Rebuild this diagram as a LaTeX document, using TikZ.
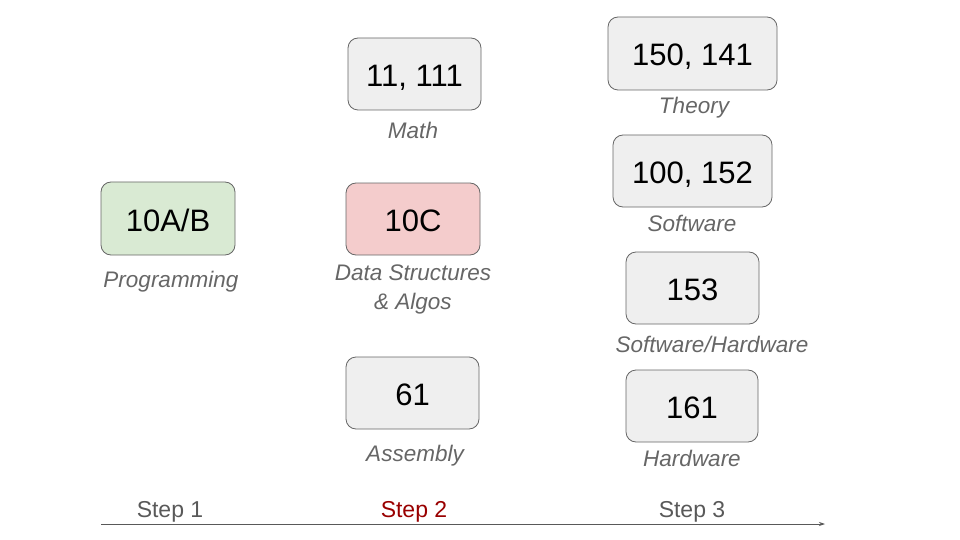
\documentclass[tikz,border=0pt]{standalone}
\usepackage{fontspec}
\setmainfont{Liberation Sans}
\usetikzlibrary{arrows.meta}
\definecolor{greenfill}{HTML}{D9EAD3}
\definecolor{redfill}{HTML}{F4CCCC}
\definecolor{grayfill}{HTML}{EFEFEF}
\definecolor{boxline}{HTML}{666666}
\definecolor{labgray}{HTML}{666666}
\definecolor{stepgray}{HTML}{595959}
\definecolor{stepred}{HTML}{990000}
\tikzset{
  course/.style={draw=boxline, line width=0.8pt, rounded corners=10pt, inner sep=0pt,
    font=\fontsize{31}{36}\selectfont, text=black, text height=25pt, text depth=0pt},
  area/.style={font=\itshape\fontsize{22.5}{29}\selectfont, text=labgray, align=center, inner sep=0pt},
  steplab/.style={font=\fontsize{23}{26}\selectfont, text=stepgray, inner sep=0pt},
}
\newcommand{\cbox}[7]{% name, x1, y1, x2, y2, fill, text
  \node[course, fill=#6, minimum width={#4pt-#2pt}, minimum height={#5pt-#3pt}]
    (#1) at ({(#2+#4)/2*1pt}, {-(#3+#5)/2*1pt}) {#7};}
\begin{document}
\begin{tikzpicture}[x=1pt,y=1pt]
\useasboundingbox (0,0) rectangle (960,-540);
% boxes
\cbox{prog}{101}{182}{235}{255}{greenfill}{10A/B}
\cbox{ds}{346}{183}{480}{255}{redfill}{10C}
\cbox{math}{348}{38}{481}{110}{grayfill}{11, 111}
\cbox{asm}{346}{357}{479}{429}{grayfill}{61}
\cbox{theory}{608}{17}{777}{90}{grayfill}{150, 141}
\cbox{sw}{613}{135}{772}{207}{grayfill}{100, 152}
\cbox{swhw}{626}{252}{759}{324}{grayfill}{153}
\cbox{hw}{626}{370}{758}{442}{grayfill}{161}
% labels
\node[area] (lprog) at (171,-282) {Programming};
\node[area] (lmath) at (413,-130) {Math};
\node[area] (lds) at (413,-289) {Data Structures\\\& Algos};
\node[area] (lasm) at (415,-456) {Assembly};
\node[area] (ltheory) at (694,-108) {Theory};
\node[area] (lsw) at (692,-223) {Software};
\node[area] (lswhw) at (712,-344) {Software/Hardware};
\node[area] (lhw) at (692,-458) {Hardware};
% steps
\node[steplab] (s1) at (170,-512) {Step 1};
\node[steplab, text=stepred] (s2) at (414,-512) {Step 2};
\node[steplab] (s3) at (692,-512) {Step 3};
% timeline
\coordinate (tstart) at (101,-524);
\coordinate (tend) at (825,-524);
\draw[stepgray, line width=0.8pt, -{Stealth[length=6pt,width=4pt]}] (tstart) -- (tend);
\end{tikzpicture}
\end{document}
